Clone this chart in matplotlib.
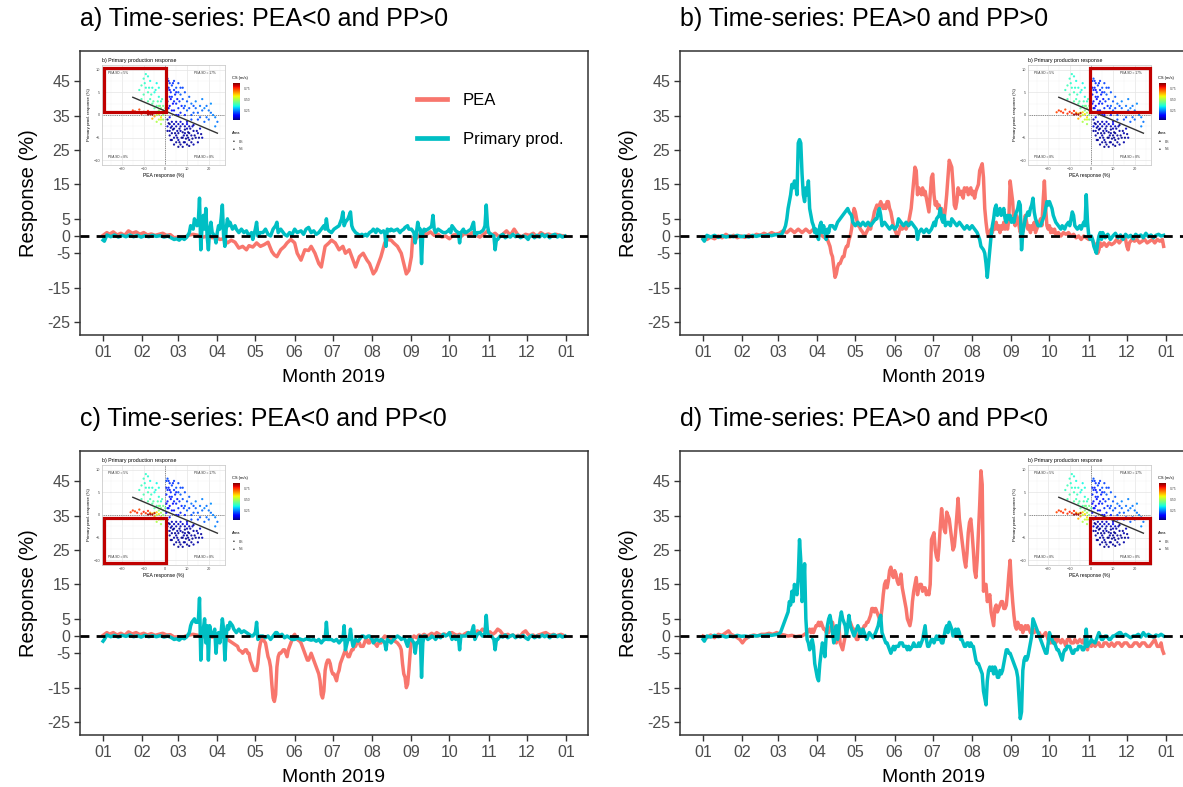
import matplotlib
matplotlib.use('Agg')
import matplotlib.pyplot as plt
import numpy as np
from matplotlib.patches import Rectangle

plt.rcParams['font.family'] = ['Liberation Sans', 'DejaVu Sans']

# ---------------- DATA ----------------
month_ticks = [0, 31, 59, 90, 120, 151, 181, 212, 243, 273, 304, 334, 365]
month_labels = ['01', '02', '03', '04', '05', '06', '07', '08', '09', '10', '11', '12', '01']
y_ticks = [-25, -15, -5, 0, 5, 15, 25, 35, 45]
titles = ['a) Time-series: PEA<0 and PP>0', 'b) Time-series: PEA>0 and PP>0',
          'c) Time-series: PEA<0 and PP<0', 'd) Time-series: PEA>0 and PP<0']
quadrants = [('neg', 'pos'), ('pos', 'pos'), ('neg', 'neg'), ('pos', 'neg')]

# (day of 2019, response %)
a_pea = [(0,0.2),(3,1),(5,0.5),(8,1.2),(11,0.3),(14,0.8),(17,0.2),(20,1.5),(23,0.8),(26,1.2),(29,0.5),(32,1),(35,0.3),(38,0.6),(41,0.2),(44,0.5),(47,0.8),(50,0.2),(53,0.4),(56,-0.5),(59,-0.3),(62,-0.6),(65,-0.2),(68,0.3),(71,0.5),(75,0.2),(79,-0.3),(83,0.1),(86,-0.5),(89,-0.2),(92,-1),(95,-0.8),(98,-2),(101,-1.2),(104,-1.8),(107,-3.5),(110,-3),(113,-4),(115,-2.8),(118,-3.2),(121,-2),(124,-3),(127,-2.5),(130,-1.8),(133,-4.5),(135,-5.5),(137,-6),(140,-4),(143,-3),(145,-2),(148,-1),(151,-2),(153,-5),(156,-7),(159,-4),(162,-4.2),(164,-3),(167,-5),(170,-8),(172,-9),(175,-3),(178,-2),(180,-1.2),(183,-2),(186,-4),(189,-3),(191,-5),(194,-4),(197,-7),(199,-9),(202,-6),(205,-5),(208,-7),(210,-8),(213,-11),(215,-10),(217,-8),(219,-6),(222,-2),(224,-1),(227,-1.2),(229,-2),(232,-3),(235,-5),(237,-8),(239,-11),(241,-10),(243,-6),(244,-0.5),(246,-1),(249,0.2),(252,1),(255,0.5),(258,1.2),(261,0.2),(264,0.5),(267,-0.3),(270,0),(273,-0.8),(276,0.3),(279,0.5),(282,-0.2),(285,0.8),(288,0.2),(291,1),(294,0.2),(297,-0.3),(300,0.5),(303,1.5),(306,0.2),(309,0.8),(312,-0.2),(315,0.5),(318,1.5),(321,0.2),(324,2),(327,0.3),(330,-0.2),(333,0.5),(336,0.2),(339,0.8),(342,-0.2),(345,1),(348,0.3),(351,0.6),(354,0.2),(357,0.5),(360,0.2),(364,0)]
a_pp = [(0,-1.2),(1,-1.5),(3,0.3),(6,-0.2),(9,0.3),(12,-0.3),(15,0.2),(18,-0.2),(21,0.3),(24,-0.2),(27,0.2),(30,-0.3),(33,0.1),(36,-0.2),(39,0.2),(42,-0.1),(45,0.1),(48,-0.3),(51,0),(54,-0.6),(56,-1),(58,-0.8),(60,-1.2),(62,-0.5),(64,-1),(66,-0.3),(68,1),(69,3),(71,2),(72,5),(74,3),(75,4),(76,11),(77,-4),(78,3),(79,6),(80,2),(81,8),(82,0),(83,-4),(84,2),(85,4),(86,1),(88,0),(89,-2),(90,1),(91,3),(92,2),(93,5),(94,9),(95,0),(96,-3),(97,2),(98,5),(99,3),(100,4),(102,2),(104,3),(105,2),(107,1),(109,2),(111,1),(113,1.5),(115,0),(117,1),(118,-1),(120,2),(121,4),(122,0),(124,1),(126,1),(128,2),(130,0.5),(132,0),(134,2),(136,3),(137,4),(138,1),(140,2),(142,1),(143,0.5),(145,0),(147,1),(149,0.5),(151,2),(153,1),(156,1.5),(158,0.5),(160,2),(162,2.5),(164,1),(166,1.5),(168,0.5),(170,1),(172,2),(174,3),(175,2),(176,5),(177,2),(178,1.5),(180,1),(182,2),(184,2.5),(186,3),(188,5),(189,7),(190,3),(191,4),(193,5),(194,6),(195,7),(196,3),(197,2),(199,1),(201,0.5),(202,0),(204,0.5),(205,0),(207,0.5),(208,0),(210,1),(212,1.5),(213,2),(215,1),(216,2),(218,1.5),(219,1),(221,1.5),(222,1),(223,-3),(224,2),(226,1.5),(227,2),(229,1.5),(232,2),(234,1),(235,1.5),(237,2),(238,2.5),(240,3),(241,2),(243,2),(245,1),(246,-2),(247,1),(248,4),(249,2),(250,2),(251,-8),(252,1),(253,2),(254,1.5),(256,2),(258,2.5),(259,3),(260,6),(261,2),(262,1),(264,2),(266,1.5),(268,1),(270,1),(272,1.5),(273,2),(274,1),(275,3),(277,2),(278,1.5),(280,1),(281,-2),(282,1),(284,2),(285,1),(286,1),(288,1.5),(290,2),(292,4),(293,0),(295,1),(297,1),(299,1.5),(300,2),(301,3),(302,9),(303,3),(304,1),(306,0.5),(308,0),(309,-4),(310,-1),(311,-1),(313,0),(315,0.5),(317,-0.5),(319,0),(321,-0.3),(323,0.5),(325,-0.2),(327,0.3),(329,-0.5),(331,0),(333,-0.2),(335,-1),(336,-0.2),(338,0.3),(340,-0.5),(342,0.2),(344,-0.3),(346,0.5),(348,-0.2),(350,0.3),(352,-0.5),(354,0.2),(356,0.5),(358,-0.3),(360,0.2),(362,-0.3),(364,0)]

b_pea = [(0,-0.5),(3,-1),(6,-0.3),(9,-0.8),(12,0),(15,-0.5),(18,0.5),(21,-0.3),(24,0.2),(27,-0.5),(30,0),(33,-0.4),(36,0.3),(39,-0.2),(42,0.5),(45,0.2),(48,0.8),(51,0.3),(54,1),(57,0.5),(60,0.8),(63,1.5),(66,1),(69,2),(72,1),(75,2),(78,1),(81,2),(84,1),(87,2),(90,1),(92,0.5),(94,0),(96,-0.5),(98,-1),(99,-2),(100,-3),(101,-5),(102,-6),(103,-9),(104,-12),(105,-11),(106,-9),(107,-8),(108,-8),(109,-7),(110,-6),(111,-6),(112,-4),(113,-3),(114,-3),(115,-1),(116,0),(117,2),(118,5),(119,8),(120,7),(121,5),(122,3),(123,3),(124,2),(126,1),(127,0),(128,0.5),(130,2),(131,3),(132,2),(133,4),(134,5),(135,7),(136,8),(137,9),(138,8),(139,9),(140,10),(141,9),(142,8),(143,9),(144,8),(145,10),(146,10),(147,8),(148,7),(149,5),(150,3),(151,2),(152,1),(153,0),(154,0.5),(155,2),(156,3),(157,2),(158,3),(160,2),(161,3),(162,4),(163,6),(164,8),(165,12),(166,16),(167,20),(168,19),(169,12),(170,14),(171,13),(172,12),(173,14),(174,12),(175,13),(176,11),(177,9),(178,7),(179,12),(180,17),(181,18),(182,12),(183,9),(184,10),(185,8),(186,9),(187,7),(188,8),(189,6),(190,5),(191,8),(192,12),(193,17),(194,22),(195,21),(196,20),(197,15),(198,9),(199,8),(200,10),(201,14),(202,13),(203,12),(204,13),(205,11),(206,14),(207,13),(208,14),(209,12),(210,13),(211,14),(212,12),(213,13),(214,11),(215,13),(216,14),(217,15),(218,19),(219,20),(220,21),(221,17),(222,8),(223,4),(224,1),(225,0),(226,1),(227,2),(228,1),(229,3),(230,2),(231,4),(232,2),(233,3),(234,1),(235,3),(236,2),(237,4),(238,2),(239,3),(240,2),(241,5),(242,16),(243,13),(244,10),(245,4),(246,3),(247,6),(248,5),(249,3),(250,1),(251,2),(252,1),(253,4),(254,6),(255,4),(256,2),(257,3),(258,1),(259,3),(260,2),(261,4),(262,1),(263,2),(264,3),(265,4),(266,5),(267,3),(268,10),(269,16),(270,8),(271,3),(272,2),(273,3),(274,1),(275,2),(276,1),(277,2),(278,0.5),(280,1),(282,0),(284,1),(286,0.5),(288,1),(290,0),(292,0.5),(294,-0.5),(296,0),(298,-1),(300,0),(302,-0.5),(304,-1),(306,-0.5),(308,-2),(310,-3),(311,-5),(312,-4),(313,-2),(314,-3),(316,-2),(318,-3),(320,-2),(322,-2.5),(324,-2),(326,-1),(328,-2),(330,-1),(332,0),(333,-1),(334,-3),(335,-4),(336,-2),(338,-1),(340,-1.5),(342,-1),(344,-2),(346,-1.5),(348,-1),(350,-2),(352,-1.5),(354,-1),(356,-2),(358,-1),(360,-1.5),(362,-1),(363,-3)]
b_pp = [(0,-1),(1,-1.5),(3,0.2),(6,-0.3),(9,0.2),(12,-0.4),(15,0.1),(18,-0.3),(21,0),(24,-0.2),(27,0.2),(30,-0.2),(33,0),(36,-0.3),(39,0.2),(42,-0.1),(45,0.2),(48,0),(51,0.3),(54,0.1),(57,0.4),(60,0.3),(62,0.5),(64,2),(65,3),(66,5),(67,8),(68,10),(69,12),(70,15),(71,14),(72,16),(73,15),(74,12),(75,27),(76,28),(77,27),(78,18),(79,12),(80,10),(81,14),(82,12),(83,16),(84,8),(85,6),(86,4),(87,3),(88,1),(89,2),(90,0),(91,-1),(92,3),(93,4),(94,1),(95,3),(96,1),(97,-1),(98,2),(99,1),(100,3),(102,3),(104,2),(106,4),(108,5),(110,6),(112,7),(114,8),(115,7),(117,6),(118,4),(120,3),(122,4),(124,3),(126,4),(128,3),(130,4),(132,3),(134,4),(136,5),(137,5),(138,7),(139,8),(140,6),(141,3),(143,4),(145,3),(147,2),(149,3),(151,2),(153,3),(154,5),(156,4),(158,3),(160,4),(162,3),(164,4),(166,3),(168,2),(169,-1),(170,1),(172,2),(174,1),(176,2),(178,1),(180,2),(182,4),(183,3),(184,5),(186,6),(187,8),(188,5),(189,4),(190,6),(191,3),(193,4),(195,3),(196,5),(198,4),(200,3),(202,4),(204,3),(206,2),(208,3),(210,2),(212,3),(214,2),(216,1),(218,-1),(219,-3),(221,-4),(222,-5),(223,-8),(224,-12),(225,-8),(226,-4),(227,0),(228,3),(229,5),(230,8),(231,9),(232,6),(233,7),(234,8),(235,6),(236,7),(237,8),(238,5),(239,4),(240,6),(241,5),(242,6),(243,4),(244,5),(245,4),(246,6),(247,7),(248,8),(249,10),(250,9),(251,-4),(252,1),(253,3),(254,5),(255,6),(256,7),(257,6),(258,8),(259,9),(260,11),(261,7),(262,5),(263,4),(264,3),(266,3),(268,5),(269,6),(270,8),(271,10),(272,9),(273,10),(274,9),(275,8),(276,6),(277,5),(278,4),(280,3),(282,2),(283,3),(285,2),(286,3),(288,4),(289,3),(290,5),(291,7),(292,6),(293,3),(295,2),(297,3),(298,2),(300,4),(301,3),(302,12),(303,4),(304,0),(305,-1),(306,0),(307,-1),(308,-3),(309,-4),(310,-5),(311,-2),(312,0),(313,1),(314,-1),(315,1),(317,-0.5),(319,0.5),(321,-1),(323,0),(325,0.8),(327,-0.5),(329,0.3),(331,-1),(333,0.5),(335,-0.3),(337,0.2),(339,-0.8),(341,0.5),(343,-0.2),(345,0.3),(347,-0.5),(349,0.8),(351,-0.2),(353,0.3),(355,-0.5),(357,0.2),(359,0.5),(361,0),(363,0.2)]

c_pea = [(0,0.2),(3,1),(5,0.5),(8,1),(11,0.3),(14,0.8),(17,0.2),(20,1.2),(23,0.6),(26,1),(29,0.4),(32,0.8),(35,0.3),(38,0.7),(41,0.2),(44,0.5),(47,0.8),(50,0.3),(53,0.4),(56,-0.3),(59,-0.2),(62,-0.5),(65,0),(68,0.3),(71,0.5),(75,0.2),(79,-0.2),(83,0.1),(86,-0.3),(89,0),(92,-0.5),(95,-0.3),(98,-1),(100,-1.5),(102,-2),(104,-2.5),(106,-3),(107,-4),(109,-4.5),(110,-5),(112,-4),(113,-4),(114,-5),(115,-5),(116,-7),(117,-8),(118,-9),(119,-10),(120,-10),(121,-10),(122,-8),(123,-4),(124,-2),(125,-1),(126,-1),(128,-2),(129,-4),(130,-6),(131,-7),(132,-9),(133,-14),(134,-18),(135,-19),(136,-17),(137,-9),(138,-6),(139,-5),(140,-5),(142,-4),(143,-4),(144,-5),(145,-6),(146,-4),(147,-3),(148,-2),(149,-1),(150,0),(151,0.5),(152,-0.5),(153,-1),(155,-1.5),(156,-2),(157,-3),(158,-4),(159,-5),(160,-6),(161,-7),(162,-7),(163,-6),(164,-5),(165,-6),(166,-7),(167,-8),(168,-9),(169,-10),(170,-11),(171,-13),(172,-17),(173,-18),(174,-16),(175,-10),(176,-8),(177,-7),(178,-7),(179,-8),(180,-10),(181,-11),(182,-11),(183,-12),(184,-13),(185,-11),(186,-10),(187,-8),(188,-7),(189,-6),(190,-5),(191,-4),(192,-5),(193,-6),(194,-6),(195,-5),(196,-4),(197,-4),(198,-3),(199,-3),(200,-2),(202,-2),(203,-3),(205,-3),(206,-2),(207,-1),(208,-1),(209,-2),(210,-2),(211,-1),(212,-1),(213,-1),(214,-2),(216,-3),(217,-2),(219,-2),(220,-1),(222,0),(224,-0.5),(226,-1),(228,-1),(230,-1.5),(232,-2),(234,-3),(235,-4),(236,-8),(237,-11),(238,-12),(239,-15),(240,-14),(241,-10),(242,-5),(243,-1),(245,0),(247,-0.5),(249,0.3),(251,0),(253,0.5),(255,0),(257,0.3),(259,0.8),(261,0.3),(263,1),(265,0.5),(267,0.2),(269,0.6),(271,0.2),(273,0.8),(275,1),(277,0.5),(279,0.2),(281,0.5),(283,0),(285,0.6),(287,1),(289,0.5),(291,1.2),(293,0.5),(295,1.5),(297,1),(299,2),(301,1.5),(303,1),(305,1.2),(307,0.5),(309,1),(311,2),(313,1.5),(315,0.5),(317,0.2),(319,0.5),(321,0),(323,0.3),(325,-0.2),(327,0.2),(329,0),(331,1),(333,1.5),(335,0.5),(337,0),(339,0.3),(341,-0.2),(343,0.3),(345,0.5),(347,0.8),(349,1),(351,0.5),(353,0.2),(355,0.5),(357,0),(359,0.3),(361,0.5),(364,0)]
c_pp = [(0,-1.5),(1,-1),(3,0.3),(6,-0.2),(9,0.2),(12,-0.3),(15,0.2),(18,-0.1),(21,0.3),(24,-0.2),(27,0.1),(30,-0.3),(33,0.2),(36,-0.2),(39,0.1),(42,-0.2),(45,0.1),(48,-0.3),(51,0),(54,-0.5),(56,-1),(58,-0.8),(60,-1.2),(62,-0.5),(64,-0.8),(66,-0.2),(68,1),(69,3),(70,4),(72,5),(73,4),(75,4),(76,11),(77,-7),(78,0),(79,2),(80,5),(81,-2),(82,3),(83,-7),(84,3),(85,0),(87,1),(88,2),(89,-5),(90,0),(91,1),(92,-2),(93,1),(94,5),(95,2),(96,-7),(97,0),(98,3),(99,2),(100,4),(102,3),(103,2),(105,1),(107,2),(109,1),(111,1.5),(113,1),(115,0.5),(117,0),(118,0),(120,1),(121,4),(122,-1),(124,0),(126,0),(128,-0.5),(130,0),(132,-1),(134,0),(136,1),(137,1),(139,0),(141,0.5),(143,-0.5),(145,0),(147,-0.5),(149,-1),(151,-1),(153,-0.5),(156,-1),(158,-1.2),(160,-0.8),(162,-1),(164,-1.2),(166,-1),(168,-1.5),(170,-1),(172,-2),(174,-1),(175,-1),(176,4),(177,-1),(178,-1),(180,-1),(182,-1.5),(184,-1),(186,-2),(188,-1),(189,-1),(190,3),(191,-4),(193,-1),(194,-1),(195,2),(196,-1),(197,-3),(199,-1),(201,-1.5),(202,-1),(204,0),(205,0),(207,-0.5),(209,0),(210,0),(212,-1),(213,-2),(215,-1),(216,-1),(218,-1.5),(219,-1),(221,-1.5),(222,-2),(223,-4),(224,-1),(226,-1.5),(227,-2),(229,-1),(232,0),(234,-0.5),(235,-1),(237,-0.5),(238,-1),(240,-3),(241,-1),(243,-1),(245,-2),(246,-5),(247,-2),(248,-2),(249,-1),(250,0),(251,-12),(252,-2),(253,0),(254,0),(256,-1),(258,-0.5),(259,0),(261,-0.5),(262,-1),(264,0),(266,-0.5),(268,0.5),(270,0),(272,0.5),(273,1),(274,0),(275,-1),(277,0),(278,-1),(280,0),(281,-4),(282,0),(284,0),(286,0),(288,1),(290,0.5),(292,3),(293,-1),(295,0.5),(297,1),(299,0),(300,0),(301,1),(302,6),(303,1),(304,0),(306,0),(308,-1),(309,-4),(310,-1),(311,-1),(313,0),(315,-0.3),(317,0.3),(319,-0.5),(321,0),(323,0.3),(325,-0.5),(327,0),(329,-0.3),(331,0.2),(333,-0.5),(335,-1),(336,-0.3),(338,0.2),(340,-0.5),(342,0),(344,-0.3),(346,0.3),(348,-0.2),(350,0.2),(352,-0.5),(354,0.2),(356,0.3),(358,-0.2),(360,0.2),(362,-0.3),(364,0)]

d_pea = [(0,0),(3,-0.5),(6,0.3),(9,-0.5),(12,0.5),(15,0.2),(18,1),(20,1.5),(22,0.5),(25,0),(27,-0.5),(29,-1),(31,-2),(33,-1),(35,-0.5),(37,0),(40,0.3),(43,0),(46,0.5),(49,0.5),(52,0.8),(55,0.5),(58,1),(61,0.5),(64,0.3),(67,0),(70,0.2),(73,-0.2),(76,0),(78,0),(80,0.5),(82,1),(84,2),(85,1),(86,2),(87,1),(88,2),(89,3),(90,3),(91,4),(92,3),(93,4),(94,3),(95,2),(96,2),(97,1),(98,1),(99,1),(100,2),(101,3),(102,4),(103,2),(104,-1),(105,-2),(106,0),(107,3),(108,-2),(109,-3),(110,-4),(111,-2),(112,0),(113,1),(114,3),(115,4),(116,4),(117,3),(118,2),(119,2),(120,0),(121,-1),(122,-1),(123,1),(124,2),(125,2),(126,2),(127,3),(128,3),(129,4),(130,4),(131,5),(132,6),(133,8),(134,8),(135,7),(136,8),(137,7),(138,6),(139,5),(140,5),(141,8),(142,12),(143,15),(144,16),(145,14),(146,16),(147,19),(148,20),(149,18),(150,17),(151,19),(152,18),(153,16),(154,15),(155,16),(156,18),(157,14),(158,12),(159,10),(160,8),(161,5),(162,4),(163,3),(164,5),(165,10),(166,13),(167,15),(168,17),(169,12),(170,14),(171,15),(172,15),(173,13),(174,14),(175,14),(176,12),(177,13),(178,12),(179,15),(180,28),(181,29),(182,30),(183,25),(184,23),(185,22),(186,26),(187,32),(188,37),(189,33),(190,31),(191,30),(192,36),(193,35),(194,34),(195,31),(196,28),(197,25),(198,26),(199,30),(200,35),(201,40),(202,34),(203,31),(204,28),(205,25),(206,22),(207,20),(208,24),(209,30),(210,33),(211,34),(212,30),(213,25),(214,19),(215,17),(216,22),(217,30),(218,38),(219,48),(220,44),(221,13),(222,15),(223,15),(224,10),(225,11),(226,12),(227,7),(228,5),(229,3),(230,8),(231,9),(232,7),(233,8),(234,9),(235,10),(236,10),(237,8),(238,8),(239,9),(240,13),(241,18),(242,22),(243,15),(244,10),(245,6),(246,3),(247,2),(248,4),(249,3),(250,2),(251,3),(252,1),(253,2),(254,3),(255,2),(256,3),(257,2),(258,1),(259,1),(260,2),(261,1),(262,2),(264,1),(265,1),(266,0),(268,0),(270,1),(271,0),(272,-1),(273,-2),(274,-2),(275,-1),(276,-2),(277,-1),(278,-2),(279,-1),(280,-1),(282,-2),(283,-1),(285,-2),(286,-3),(287,-1),(289,-1),(290,-2),(292,-2),(293,-1),(295,-2),(297,-1),(299,-2),(300,-1),(301,-2),(302,-3),(303,-4),(304,-2),(306,-3),(307,-2),(309,-3),(311,-2),(312,-2),(313,-3),(315,-3),(316,-2),(318,-2),(320,-3),(322,-2),(324,-3),(326,-2),(328,-2),(330,-3),(332,-2),(334,-2),(336,-3),(338,-3),(340,-2),(342,-2),(344,-3),(346,-2),(348,-2),(350,-3),(352,-3),(354,-2),(356,-1),(358,-3),(360,-3),(361,-2),(362,-4),(363,-5)]
d_pp = [(0,-1),(1,-1.5),(3,0),(6,-0.3),(9,0.2),(12,-0.2),(15,0.1),(18,-0.3),(21,0),(24,-0.2),(27,0.2),(30,-0.1),(33,0),(36,-0.2),(39,0.1),(42,0),(45,0.2),(48,0.1),(51,0.3),(54,0.2),(57,0.4),(59,0.5),(61,1),(62,2),(63,3),(64,4),(65,5),(66,6),(67,7),(68,10),(69,9),(70,13),(71,10),(72,15),(73,13),(74,12),(75,17),(76,28),(77,22),(78,10),(79,12),(80,21),(81,5),(82,-1),(83,-2),(84,-4),(85,-3),(86,-1),(87,-3),(88,-8),(89,-10),(90,-12),(91,-13),(92,-8),(93,-5),(94,-2),(95,-3),(96,-6),(97,0),(98,3),(99,5),(100,6),(101,4),(102,1),(103,-2),(104,1),(105,3),(106,-1),(107,2),(108,5),(109,7),(110,5),(111,4),(112,3),(113,0),(114,3),(115,6),(116,3),(117,2),(118,1),(119,0),(120,1),(121,2),(122,3),(123,2),(124,0),(125,1),(126,2),(128,0),(129,-1),(131,1),(133,0),(134,-0.5),(136,1),(137,2),(138,3),(139,5),(140,6),(141,1),(142,0),(143,-1),(144,-2),(145,-2),(146,-3),(147,-4),(148,-5),(149,-4),(150,-3),(151,-4),(152,-3),(154,-3),(155,-2),(157,-2),(158,-3),(160,-3),(161,-4),(162,-3),(163,-4),(165,-3),(166,-2),(167,-3),(169,-3),(170,-2),(171,-3),(172,-2),(173,-1),(174,1),(175,3),(176,-1),(177,-3),(178,-3),(180,-1),(181,-1),(182,-2),(183,-1),(184,0),(185,-1),(186,0),(187,-1),(188,-2),(189,-2),(190,0),(191,2),(192,3),(193,1),(194,4),(195,3),(196,2),(197,0),(198,1),(199,2),(200,0),(201,2),(202,1),(203,-1),(204,-1),(205,-2),(206,-3),(207,-3),(208,-2),(209,-2),(210,-3),(211,-2),(212,-3),(213,-3),(214,-5),(215,-7),(216,-8),(217,-8),(218,-9),(219,-10),(220,-11),(221,-16),(222,-18),(223,-20),(224,-13),(225,-10),(226,-9),(227,-10),(228,-9),(229,-11),(230,-9),(231,-10),(232,-12),(233,-12),(234,-10),(235,-11),(236,-10),(237,-8),(238,-6),(239,-4),(240,-4),(241,-5),(242,-5),(243,-6),(244,-7),(245,-8),(246,-9),(247,-10),(248,-12),(249,-18),(250,-24),(251,-22),(252,-10),(253,-7),(254,-6),(255,-7),(256,-6),(257,-4),(258,-2),(259,0),(260,5),(261,4),(262,3),(263,2),(264,1),(265,0),(266,-1),(267,-2),(268,-3),(269,-4),(270,-5),(271,-5),(272,-2),(273,1),(274,0),(275,-1),(276,-2),(277,-2),(278,-3),(279,-4),(280,-4),(281,-5),(282,-6),(283,-7),(284,-5),(285,-4),(286,-4),(287,-3),(288,-3),(289,-3),(290,-4),(291,-5),(292,-5),(293,-4),(294,-4),(295,-4),(296,-3),(297,-3),(298,-3),(299,-4),(300,-4),(301,-3),(302,2),(303,-3),(304,-2),(305,-2),(306,-1),(307,-1.5),(309,-2),(310,-1),(311,0),(312,1),(313,0),(314,-1),(315,-1),(317,0),(318,0),(320,-1),(321,-1),(323,0),(324,0),(326,0.5),(328,1),(329,1),(331,0),(333,0.5),(335,0),(337,-0.5),(339,0),(341,0),(343,0.5),(345,-0.3),(347,1),(349,0),(351,0.5),(353,0),(355,-0.3),(357,0.3),(359,0),(361,0.5),(363,0)]

# inset scatter: (PEA response %, PP response %, CS m/s)
inset_points = [
 # low current speed, PEA>0 & PP<0
 (1,-1,0.07),(2,-2,0.06),(3,-1.5,0.08),(4,-3,0.06),(5,-2.5,0.07),(6,-4,0.06),(7,-3.5,0.08),(8,-5,0.06),(9,-4,0.07),(10,-3,0.08),
 (11,-5.5,0.06),(12,-4.5,0.07),(3,-4,0.06),(4,-5,0.07),(5,-6,0.06),(6,-5.5,0.08),(7,-6.5,0.06),(8,-2,0.09),(9,-6,0.07),(10,-6.5,0.06),
 (11,-2.5,0.08),(13,-3.5,0.07),(14,-5,0.06),(15,-4,0.08),(16,-3,0.09),(2,-3.5,0.07),(1,-2.5,0.1),(6,-2,0.09),(7,-1.5,0.1),(9,-2.5,0.07),
 (12,-6,0.06),(13,-6.5,0.07),(4,-6.5,0.06),(5,-4.5,0.07),(8,-7,0.06),(10,-1.5,0.1),(15,-6,0.07),(17,-5,0.08),(3,-2.5,0.08),(11,-4,0.06),
 (6.5,-3,0.06),(8.5,-4.5,0.07),(10.5,-5,0.06),(5.5,-3.5,0.07),(12.5,-2.5,0.08),(2.5,-5.5,0.07),
 (1.5,-1.8,0.05),(2.5,-2.8,0.06),(3.5,-3.2,0.05),(4.5,-4,0.05),(5.5,-5,0.06),(6.5,-6,0.05),(7.5,-5,0.05),(8.5,-6,0.06),(9.5,-5.2,0.05),
 (10.5,-3.8,0.05),(11.5,-3,0.06),(12.5,-5.2,0.05),(13.5,-4.5,0.05),(14.5,-3.5,0.06),(15.5,-5,0.05),(16.5,-4.2,0.06),(7,-2.5,0.07),
 (9,-3.2,0.05),(4,-2,0.08),(2,-4.5,0.06),(3,-5.5,0.05),(6,-7,0.05),(11,-6.8,0.05),(13,-2.2,0.07),(1,-3.5,0.06),(8,-3.8,0.05),
 (10,-4.5,0.05),(5,-1.5,0.08),
 # PEA>0 & mostly PP>0
 (0.5,7.5,0.2),(1,8,0.21),(2,7,0.18),(3,6.5,0.2),(1.5,6,0.17),(4,5.5,0.19),(2.5,5,0.17),(5,6,0.21),(0.5,4.5,0.17),(3,4,0.18),
 (6,5,0.2),(7,4.5,0.22),(1,3,0.16),(4,3,0.17),(8,3.5,0.21),(2,2,0.15),(5,2.5,0.17),(9,2,0.22),(3,1,0.15),(6,1.5,0.18),
 (10,1,0.22),(7,0.5,0.17),(12,2.5,0.24),(14,3,0.25),(16,2,0.24),(13,0.5,0.22),(18,1.5,0.25),(20,1,0.24),(22,0,0.25),(15,-1,0.2),
 (19,-0.5,0.23),(24,-1.5,0.24),(21,2.5,0.26),(11,4,0.22),(17,3.5,0.25),(8,6,0.2),(6,7,0.2),(4,7.5,0.19),(12,-1,0.2),(23,-2.5,0.25),
 (9,5,0.21),(14,1.5,0.23),(1.5,1.5,0.16),(0.5,0.5,0.15),(2,-0.5,0.13),(5,0,0.14),(10,-2,0.13),(18,-1.5,0.22),
 (0.5,6,0.17),(1.5,7.5,0.18),(2,5.5,0.15),(3.5,7,0.18),(2.5,3.5,0.15),(4.5,4.5,0.17),(5.5,3.5,0.16),(6.5,3,0.18),(7.5,2,0.17),
 (8.5,1.5,0.19),(3.5,2.5,0.15),(1,1.5,0.14),(5,5,0.17),(7,6,0.2),(10,3,0.21),(11,1.5,0.2),(12,0,0.21),(15,0.5,0.22),(16,-0.5,0.21),
 (17,1,0.23),(19,2,0.24),(20,-1,0.23),(21,0.5,0.24),(23,-0.5,0.25),(13,2,0.21),(9,0,0.17),(6,0,0.14),(4,1,0.13),(2,4,0.16),
 (1,5.5,0.18),(0.5,2.5,0.15),
 # PEA<0 & PP>0
 (-9,9,0.38),(-8,8.5,0.37),(-10,8,0.39),(-7,7.5,0.36),(-11,6.5,0.4),(-9,6,0.38),(-6,6,0.37),(-8,5,0.4),(-5,5,0.36),(-10,4.5,0.41),
 (-4,7,0.35),(-7,3.5,0.4),(-3,4,0.37),(-6,2.5,0.42),(-2,3,0.38),(-4,2,0.41),(-12,5.5,0.39),(-8,3,0.42),(-5,1.5,0.43),(-3,6,0.36),
 (-9.5,7,0.38),(-7.5,6,0.38),(-6.5,4.5,0.39),(-5.5,3,0.42),(-4.5,5.5,0.37),(-2.5,2,0.42),(-1.5,3.5,0.4),(-11,3.5,0.41),(-3.5,3,0.41),(-1,1,0.43),
 # near the origin
 (-3,1,0.47),(-2,0.5,0.5),(-1,2,0.45),(-4,0,0.52),(-1,-1,0.48),(-2,-2,0.5),(-3,-1,0.53),(0,1.5,0.44),(-5,0.5,0.55),(-1,0,0.47),
 (-2,1.5,0.46),(-4,-1.5,0.51),(-3,2,0.46),(-2,-1,0.55),
 (-6,0.3,0.63),(-5,-0.3,0.66),(-4,0.6,0.62),(-7,0.5,0.68),(-3,0.2,0.6),(-2,-0.5,0.6),(-6,-0.8,0.65),
 (-15,1,0.76),(-14,0.8,0.75),(-13,0.5,0.77),(-12,1.2,0.74),(-11,0.3,0.76),(-10,0.7,0.78),(-9,0.4,0.75),(-8,0.9,0.77),(-16,0.6,0.74),
 (-7,0.2,0.84),(-8,0.1,0.86),(-6,0.1,0.85),(-5,0.4,0.83),
]
fit_x = [-15, 24]
fit_y = [3.9, -4.0]
quadrant_sd = [('neg', 'pos', 'PEA SD = 5%'), ('pos', 'pos', 'PEA SD = 17%'),
               ('neg', 'neg', 'PEA SD = 8%'), ('pos', 'neg', 'PEA SD = 8%')]
cs_ticks = [0.25, 0.50, 0.75]
area_labels = ['BS', 'NS']

# ---------------- STYLE ----------------
PEA_C = '#F8766D'
PP_C = '#00BFC4'
TXT_GREY = '#4D4D4D'
FRAME = '#333333'
RED = '#C00000'
W, H = 1183, 787

fig = plt.figure(figsize=(W / 100, H / 100), dpi=100)
fig.patch.set_facecolor('white')


def frect(x0, y0, x1, y1):
    return [x0 / W, 1 - y1 / H, (x1 - x0) / W, (y1 - y0) / H]


def fpt(x, y):
    return x / W, 1 - y / H


panels = [(a_pea, a_pp), (b_pea, b_pp), (c_pea, c_pp), (d_pea, d_pp)]
ISX = (-29.2, 27.5)
ISY = (-11, 11)

for i, (pea, pp) in enumerate(panels):
    col, row = i % 2, i // 2
    ox, oy = 600 * col, 400 * row
    ax = fig.add_axes(frect(80 + ox, 51 + oy, 588 + ox, 335 + oy))
    dx, dv = zip(*pea)
    ax.plot(dx, dv, color=PEA_C, lw=2.5, label='PEA', zorder=2)
    dx, dv = zip(*pp)
    ax.plot(dx, dv, color=PP_C, lw=2.5, label='Primary prod.', zorder=3)
    ax.axhline(0, color='black', lw=2.0, ls=(0, (3.2, 2.6)), zorder=4)
    ax.set_xlim(-18.2, 382.2)
    ax.set_ylim(-28.75, 53.75)
    ax.set_xticks(month_ticks)
    ax.set_xticklabels(month_labels)
    ax.set_yticks(y_ticks)
    ax.set_yticklabels([str(t) for t in y_ticks])
    ax.tick_params(length=4, width=1, color=FRAME, labelsize=11.5, labelcolor=TXT_GREY, pad=3)
    for s in ax.spines.values():
        s.set_color(FRAME)
        s.set_linewidth(1.1)
    fig.text(*fpt(80 + ox, 19 + oy), titles[i], fontsize=18, ha='left', va='center')
    fig.text(*fpt(334 + ox, 378 + oy), 'Month 2019', fontsize=14, ha='center', va='center')
    fig.text(*fpt(28 + ox, 193 + oy), 'Response (%)', fontsize=14.5, ha='center', va='center', rotation=90)

    if i == 0:
        leg = ax.legend(loc='upper left', bbox_to_anchor=fpt(417, 93), bbox_transform=fig.transFigure,
                        frameon=False, fontsize=12, handlelength=1.8, handletextpad=0.95,
                        labelspacing=1.45, borderpad=0, borderaxespad=0)
        for h in leg.get_lines():
            h.set_linewidth(3.4)

    # ---------- inset scatter ----------
    if col == 0:
        ix0 = 102 + ox
    else:
        ix0 = 1028
    ix1 = ix0 + 123
    iy0, iy1 = 65 + oy, 165 + oy
    iax = fig.add_axes(frect(ix0, iy0, ix1, iy1))
    iax.set_facecolor('white')
    px, py, pc = zip(*inset_points)
    iax.set_xlim(*ISX)
    iax.set_ylim(*ISY)
    iax.set_xticks([-20, -10, 0, 10, 20])
    iax.set_yticks([-10, -5, 0, 5, 10])
    iax.set_xticks([-25, -15, -5, 5, 15, 25], minor=True)
    iax.set_yticks([-7.5, -2.5, 2.5, 7.5], minor=True)
    iax.grid(True, which='major', color='#E5E5E5', lw=0.5)
    iax.grid(True, which='minor', color='#F2F2F2', lw=0.3)
    iax.set_axisbelow(True)
    iax.tick_params(which='both', length=0, labelsize=2.8, labelcolor=TXT_GREY, pad=1.5)
    for s in iax.spines.values():
        s.set_color('#CCCCCC')
        s.set_linewidth(0.6)
    iax.axvline(0, color='#666666', lw=0.6, ls=(0, (1, 1.2)), zorder=1)
    iax.axhline(0, color='#666666', lw=0.6, ls=(0, (1, 1.2)), zorder=1)
    iax.scatter(px, py, c=pc, cmap='jet', vmin=0.04, vmax=0.88, s=2.6, lw=0, alpha=0.9, zorder=2)
    iax.plot(fit_x, fit_y, color='#333333', lw=1.0, zorder=3)
    for qx, qy, lab in quadrant_sd:
        tx = -22 if qx == 'neg' else 18
        ty = 9.3 if qy == 'pos' else -9.2
        iax.text(tx, ty, lab, fontsize=2.3, ha='center', va='center', color='#333333')
    iax.set_xlabel('PEA response (%)', fontsize=3.6, labelpad=1.5)
    iax.set_ylabel('Primary prod. response (%)', fontsize=3.2, labelpad=1.5)
    iax.set_title('b) Primary production response', fontsize=3.8, loc='left', pad=2)
    # highlighted quadrant
    qx, qy = quadrants[i]
    rx0, rx1 = (ISX[0] + 0.9, 0.4) if qx == 'neg' else (-0.4, ISX[1] - 0.3)
    ry0, ry1 = (0.6, ISY[1] - 0.6) if qy == 'pos' else (ISY[0] + 0.4, -0.6)
    iax.add_patch(Rectangle((rx0, ry0), rx1 - rx0, ry1 - ry0, fill=False, ec=RED, lw=2.3,
                            zorder=6, clip_on=False))
    # colour bar legend
    cax = fig.add_axes(frect(ix1 + 8, iy0 + 18, ix1 + 15, iy0 + 55))
    grad = np.linspace(0.04, 0.88, 200)[:, None]
    cax.imshow(grad, cmap='jet', aspect='auto', origin='lower', extent=[0, 1, 0.04, 0.88])
    cax.set_xticks([])
    cax.set_yticks(cs_ticks)
    cax.yaxis.tick_right()
    cax.set_yticklabels(['%.2f' % t for t in cs_ticks])
    cax.tick_params(length=1, width=0.3, color='white', labelsize=2.4, labelcolor=TXT_GREY, pad=1.5)
    for s in cax.spines.values():
        s.set_visible(False)
    fig.text(*fpt(ix1 + 7, iy0 + 13), 'CS (m/s)', fontsize=2.9, ha='left', va='center')
    fig.text(*fpt(ix1 + 7, iy0 + 68), 'Area', fontsize=2.9, ha='left', va='center')
    for k, lab in enumerate(area_labels):
        fig.text(*fpt(ix1 + 9, iy0 + 77 + 7 * k), '\u2022', fontsize=3.5, ha='center', va='center')
        fig.text(*fpt(ix1 + 14, iy0 + 77 + 7 * k), lab, fontsize=2.4, ha='left', va='center',
                 color=TXT_GREY)

fig.savefig('out.png', dpi=100, facecolor='white')
